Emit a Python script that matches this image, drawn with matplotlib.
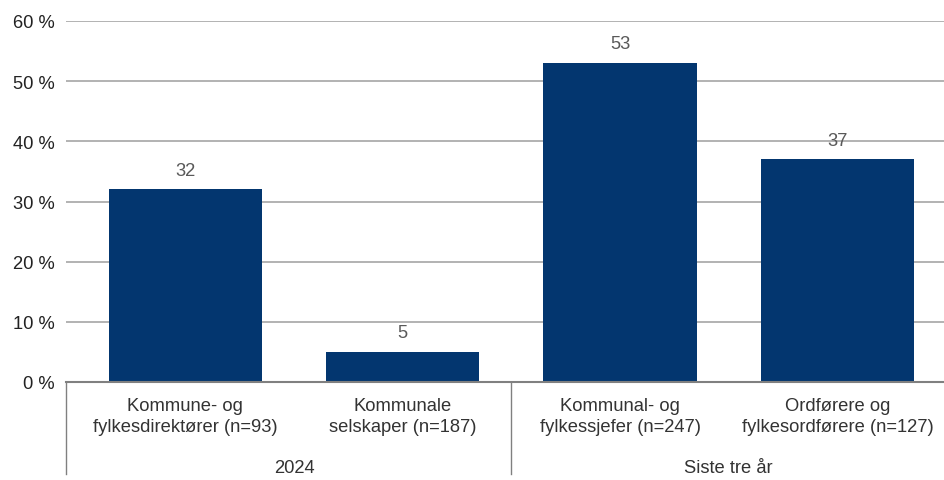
import matplotlib.pyplot as plt
from matplotlib import transforms

plt.rcParams['font.family'] = ['Liberation Sans', 'DejaVu Sans']

categories = ["Kommune- og\nfylkesdirektører (n=93)", "Kommunale\nselskaper (n=187)",
              "Kommunal- og\nfylkessjefer (n=247)", "Ordførere og\nfylkesordførere (n=127)"]
values = [32, 5, 53, 37]
groups = ["2024", "Siste tre år"]
yticks = [0, 10, 20, 30, 40, 50, 60]

fig = plt.figure(figsize=(9.44, 4.81), dpi=100)
ax = fig.add_axes([66 / 944, 1 - 383 / 481, 1 - 66 / 944, (383 - 22) / 481])

x = range(len(categories))
ax.bar(x, values, width=0.705, color="#03366f", zorder=3)
for xi, v in zip(x, values):
    ax.text(xi, v + 1.8, str(v), ha="center", va="bottom", fontsize=13.2, color="#595959")

ax.set_xlim(-0.549, len(categories) - 0.51)
ax.set_ylim(0, 60)
ax.set_yticks(yticks)
ax.set_yticklabels(["%d %%" % t for t in yticks], fontsize=13.2, color="#222222")
ax.set_xticks(list(x))
ax.set_xticklabels(categories, fontsize=13.2, color="#333333", linespacing=1.3)
ax.tick_params(axis="both", length=0)
ax.tick_params(axis="x", pad=11)
ax.tick_params(axis="y", pad=8)

ax.grid(axis="y", color="#a6a6a6", linewidth=1.2, zorder=0)
for s in ["top", "right", "left"]:
    ax.spines[s].set_visible(False)
ax.spines["bottom"].set_color("#808080")
ax.spines["bottom"].set_linewidth(1.5)
ax.spines["bottom"].set_zorder(4)

# separators between groups: left edge of the axes and between the two groups
ax.plot([0, 0], [0, -0.255], transform=ax.transAxes, color="#808080", linewidth=1, clip_on=False)
trans = transforms.blended_transform_factory(ax.transData, ax.transAxes)
ax.plot([1.5, 1.5], [0, -0.255], transform=trans, color="#808080", linewidth=1, clip_on=False)
for gi, g in enumerate(groups):
    ax.text(gi * 2 + 0.5, -0.237, g, transform=trans, ha="center", va="center",
            fontsize=13.2, color="#333333")

fig.savefig("out.png", dpi=100)
